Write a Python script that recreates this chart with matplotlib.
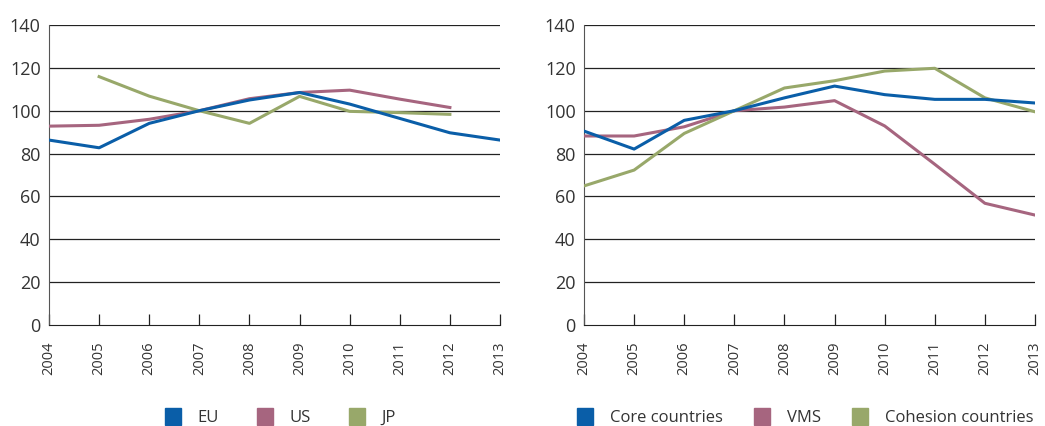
import matplotlib
matplotlib.use("Agg")
import matplotlib.pyplot as plt
from matplotlib.patches import Patch

# datos
anios = [2004, 2005, 2006, 2007, 2008, 2009, 2010, 2011, 2012, 2013]

eu = [86.3, 82.7, 94.1, 100, 105, 108.5, 103.1, 96.4, 89.7, 86.3]
us = [92.8, 93.2, 96, 100, 105.6, 108.5, 109.6, 105.4, 101.5]
jp = [115.9, 106.8, 100, 94.1, 106.7, 99.7, 99.1, 98.3]

core = [90.5, 82.1, 95.5, 100, 106, 111.5, 107.5, 105.3, 105.3, 103.6]
vms = [88.2, 88.2, 92.5, 100, 101.7, 104.7, 92.9, 75, 56.8, 51.3]
cohesion = [64.9, 72.3, 89.4, 100, 110.6, 114, 118.5, 119.8, 106, 99.5]

azul = "#0a5ea8"
malva = "#a6657f"
verde = "#98a86a"

plt.rcParams['font.family'] = ['Open Sans', 'DejaVu Sans']

fig = plt.figure(figsize=(10.45, 4.26), dpi=100)
ax1 = fig.add_axes([49/1045, 101/426, 451/1045, 300/426])
ax2 = fig.add_axes([584/1045, 101/426, 451/1045, 300/426])


def formato(ax):
    ax.set_xlim(2004, 2013)
    ax.set_ylim(0, 140)
    ax.set_yticks(range(0, 141, 20))
    ax.set_xticks(anios)
    ax.set_xticklabels([str(a) for a in anios], rotation=90, fontsize=10.5, color="#333333")
    ax.tick_params(axis='y', length=0, labelsize=13, pad=6, labelcolor="#333333")
    ax.tick_params(axis='x', direction='in', length=8, width=0.9, color="#222222", pad=12)
    for y in range(20, 141, 20):
        ax.axhline(y, color="#222222", lw=0.9, zorder=1)
    ax.spines['right'].set_visible(False)
    ax.spines['top'].set_visible(False)
    ax.spines['left'].set_color("#555555")
    ax.spines['bottom'].set_color("#222222")


formato(ax1)
formato(ax2)

ax1.plot(anios[:9], us, color=malva, lw=2.2, zorder=3)
ax1.plot(anios[1:9], jp, color=verde, lw=2.2, zorder=3)
ax1.plot(anios, eu, color=azul, lw=2.2, zorder=4)

ax2.plot(anios, vms, color=malva, lw=2.2, zorder=3)
ax2.plot(anios, cohesion, color=verde, lw=2.2, zorder=3)
ax2.plot(anios, core, color=azul, lw=2.2, zorder=4)

kw = dict(loc='center left', ncol=3, frameon=False, fontsize=12, handlelength=0.95,
          handleheight=1.2, handletextpad=1.0, borderpad=0,
          borderaxespad=0, labelcolor="#333333")
fig.legend([Patch(color=azul), Patch(color=malva), Patch(color=verde)],
           ["EU", "US", "JP"], bbox_to_anchor=(165/1045, 1 - 417/426),
           columnspacing=2.3, **kw)
fig.legend([Patch(color=azul), Patch(color=malva), Patch(color=verde)],
           ["Core countries", "VMS", "Cohesion countries"],
           bbox_to_anchor=(577/1045, 1 - 417/426), columnspacing=1.9, **kw)

fig.savefig("out.png", dpi=100)
